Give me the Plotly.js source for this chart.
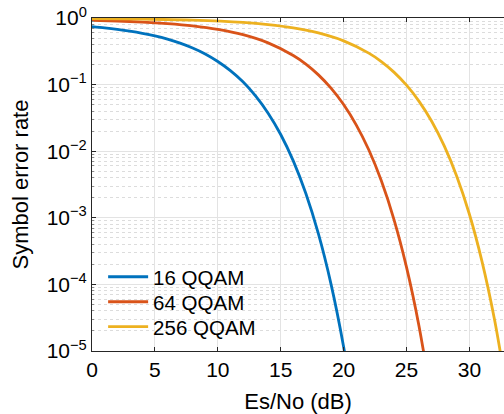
<!DOCTYPE html>
<html>
<head>
<meta charset="utf-8">
<script src="https://cdn.plot.ly/plotly-3.0.1.min.js"></script>
<style>html,body{margin:0;padding:0;background:#fff;}#chart{width:504px;height:414px;}</style>
</head>
<body>
<div id="chart"></div>
<script>
// Es/No (dB) sample points and symbol error rates
const seriesNames = ['16 QQAM', '64 QQAM', '256 QQAM'];
const x16 = [0,1,2,3,4,5,6,7,8,9,10,11,12,13,14,15,16,17,18,19,20,21];
const ser16 = [0.742,0.711,0.675,0.635,0.589,0.538,0.481,0.419,0.354,0.288,0.222,0.162,0.110,0.0675,0.0372,0.0178,0.00715,0.00231,0.000572,0.000101,1.16e-5,7.8e-7];
const x64 = [0,2,4,6,8,10,12,14,16,17,18,19,20,21,22,23,24,25,26,27];
const ser64 = [0.924,0.901,0.870,0.824,0.761,0.674,0.561,0.423,0.273,0.203,0.140,0.0884,0.0502,0.0249,0.0105,0.00359,0.000949,0.000182,2.34e-5,1.8e-6];
const x256 = [0,4,8,12,14,16,18,20,22,23,24,25,26,27,28,29,30,31,32,33];
const ser256 = [0.980,0.964,0.930,0.859,0.798,0.712,0.597,0.454,0.297,0.222,0.154,0.098,0.0561,0.0282,0.0120,0.00418,0.00113,0.000222,2.94e-5,2.36e-6];

const xTicks = [0,5,10,15,20,25,30];
const yTickVals = [1,0.1,0.01,0.001,0.0001,0.00001];
const yTickText = ['10<sup>0</sup>','10<sup>\u22121</sup>','10<sup>\u22122</sup>','10<sup>\u22123</sup>','10<sup>\u22124</sup>','10<sup>\u22125</sup>'];
const minorMantissas = [2,3,4,5,6,7,8,9];
const minorDecades = [1e-5,1e-4,1e-3,1e-2,1e-1];

const colors = ['#0072BD','#D95319','#EDB120'];
const xs = [x16, x64, x256];
const ys = [ser16, ser64, ser256];
const legendIds = ['legend', 'legend2', 'legend3'];
const legendRowY = [0.2224, 0.1473, 0.0727];

const minorVals = [];
minorDecades.forEach(d => minorMantissas.forEach(m => minorVals.push(m*d)));

const traces = xs.map((xv, i) => ({
  x: xv, y: ys[i], type: 'scatter', mode: 'lines', name: seriesNames[i],
  legend: legendIds[i],
  line: {color: colors[i], width: 2.8, shape: 'spline', smoothing: 0.8},
  cliponaxis: true
}));

const fontFam = 'Liberation Sans, Arial, Helvetica, sans-serif';
const axisColor = '#262626';

const layout = {
  width: 504, height: 414,
  margin: {l: 92, r: 0, t: 18, b: 63, pad: 0},
  paper_bgcolor: '#ffffff', plot_bgcolor: '#ffffff',
  font: {family: fontFam, color: axisColor, size: 21},
  showlegend: true,
  shapes: [{
    type: 'rect', xref: 'paper', yref: 'paper', layer: 'between',
    x0: 0.012, x1: 0.48, y0: 0.03, y1: 0.28,
    fillcolor: '#ffffff', line: {width: 0}
  }],
  xaxis: {
    range: [0, 32.75], tickmode: 'array', tickvals: xTicks,
    ticks: 'inside', ticklen: 4, tickcolor: axisColor, tickwidth: 1,
    showline: true, linecolor: axisColor, linewidth: 1, mirror: 'ticks',
    showgrid: true, gridcolor: '#e3e3e3', gridwidth: 1,
    zeroline: false,
    tickfont: {family: fontFam, size: 21, color: '#000000'},
    title: {text: 'Es/No (dB)', font: {family: fontFam, size: 22, color: '#000000'}, standoff: 15}
  },
  yaxis: {
    type: 'log', range: [-5, 0], tickmode: 'array', tickvals: yTickVals, ticktext: yTickText,
    ticks: 'inside', ticklen: 4, tickcolor: axisColor, tickwidth: 1,
    showline: true, linecolor: axisColor, linewidth: 1, mirror: false,
    showgrid: true, gridcolor: '#e3e3e3', gridwidth: 1,
    zeroline: false,
    tickfont: {family: fontFam, size: 21, color: '#000000'},
    minor: {tickmode: 'array', tickvals: minorVals, ticks: 'inside', ticklen: 2, tickcolor: '#8a8a8a',
            showgrid: true, gridcolor: '#dcdcdc', griddash: 'dot', gridwidth: 1},
    title: {text: 'Symbol error rate', font: {family: fontFam, size: 22, color: '#000000'}, standoff: 11}
  }
};

legendIds.forEach((id, i) => {
  layout[id] = {
    x: 0.027, y: legendRowY[i], xanchor: 'left', yanchor: 'middle',
    bgcolor: 'rgba(255,255,255,0)', borderwidth: 0,
    font: {family: fontFam, size: 20.5, color: '#000000'},
    itemwidth: 40
  };
});

Plotly.newPlot('chart', traces, layout, {displayModeBar: false, staticPlot: true});
</script>
</body>
</html>
